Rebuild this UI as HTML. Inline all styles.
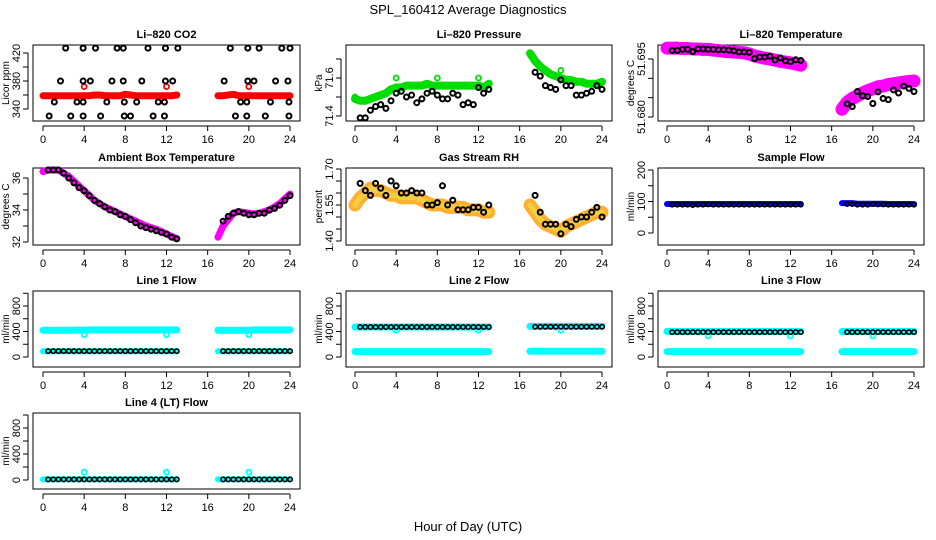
<!DOCTYPE html>
<html><head><meta charset="utf-8"><style>
html,body{margin:0;padding:0;background:#fff;}
svg{display:block;font-family:"Liberation Sans",Arial,sans-serif;}
</style></head><body>
<svg id="chart" width="936" height="540" viewBox="0 0 936 540" xmlns="http://www.w3.org/2000/svg">
<text x="468" y="14" text-anchor="middle" font-size="13">SPL_160412  Average Diagnostics</text>
<text x="468" y="531" text-anchor="middle" font-size="13">Hour of Day (UTC)</text>
</svg>
<script>
// ---- shared time arrays ----
const tDense = [0,0.5,1,1.5,2,2.5,3,3.5,4,4.5,5,5.5,6,6.5,7,7.5,8,8.5,9,9.5,10,10.5,11,11.5,12,12.5,13,17,17.5,18,18.5,19,19.5,20,20.5,21,21.5,22,22.5,23,23.5,24];
const tBlack = [0.5,1,1.5,2,2.5,3,3.5,4,4.5,5,5.5,6,6.5,7,7.5,8,8.5,9,9.5,10,10.5,11,11.5,12,12.5,13,17.5,18,18.5,19,19.5,20,20.5,21,21.5,22,22.5,23,23.5,24];
const xTicks = [0,4,8,12,16,20,24];
// ---- CO2 ----
const co2Red = [359,359,359,359,359,359,359,359,359,359,360,360,359,359,359,359,361,360,359,359,359,359,359,359,359,359,360,359,359,360,361,359,359,359,359,359,359,359,359,359,359,359];
const co2BlackT = [2.2,3.9,5.1,7.2,7.8,10.2,11.9,13.1,18.2,19.9,21.0,23.2,24, 1.7,3.9,4.6,6.7,7.8,9.6,11.9,12.6,17.6,19.9,20.5,22.6,23.8, 1.1,3.3,3.9,6.2,7.9,9.1,11.2,11.8,19.2,19.8,22.1,23.9, 0.6,2.7,3.9,5.6,7.9,8.5,10.7,11.8,18.7,19.8,21.6,23.9];
const co2BlackV = [427,427,427,427,427,427,427,427,427,427,427,427,427, 380,380,380,380,380,380,380,380,380,380,380,380,380, 350,350,350,350,350,350,350,350,350,350,350,350, 330,330,330,330,330,330,330,330,330,330,330,330];
const co2OutT = [4,12,20];
const co2OutV = [372,372,372];
// ---- Pressure ----
const presGreen = [71.49,71.48,71.48,71.49,71.5,71.51,71.52,71.54,71.55,71.55,71.56,71.56,71.56,71.56,71.57,71.56,71.56,71.56,71.56,71.56,71.56,71.56,71.56,71.56,71.56,71.55,71.57,71.73,71.69,71.66,71.64,71.62,71.61,71.6,71.59,71.59,71.58,71.58,71.57,71.57,71.57,71.58];
const presBlack = [71.39,71.39,71.43,71.45,71.46,71.44,71.48,71.52,71.53,71.5,71.51,71.47,71.49,71.52,71.53,71.51,71.49,71.49,71.52,71.51,71.46,71.47,71.46,71.55,71.52,71.54,71.63,71.61,71.56,71.55,71.54,71.59,71.56,71.56,71.51,71.51,71.52,71.53,71.56,71.54];
const presOutT = [0,4,8,12,20];
const presOutV = [71.5,71.6,71.6,71.6,71.64];
// ---- Li-820 Temperature ----
const tempMag = [51.6978,51.6978,51.6978,51.6977,51.6977,51.6976,51.6976,51.6975,51.6975,51.6973,51.6972,51.697,51.6969,51.6968,51.6967,51.6966,51.6963,51.6958,51.6955,51.6952,51.695,51.6947,51.6944,51.6942,51.694,51.6937,51.6934,51.682,51.6838,51.6848,51.6855,51.6862,51.6868,51.6873,51.6878,51.688,51.6884,51.6886,51.6888,51.689,51.6892,51.6893];
const tempBlack = [51.6972,51.6972,51.6975,51.6975,51.6969,51.6976,51.6976,51.6975,51.6975,51.6974,51.6974,51.6973,51.6971,51.6968,51.6968,51.6967,51.6951,51.6955,51.6955,51.6957,51.6947,51.6953,51.6945,51.6943,51.6948,51.6946,51.6834,51.6827,51.6866,51.6855,51.6853,51.6835,51.6865,51.6848,51.6845,51.6870,51.6862,51.6880,51.6874,51.6866];
// ---- Ambient box temperature ----
const ambMag = [36.4,36.5,36.5,36.5,36.3,36.1,35.8,35.5,35.2,34.9,34.6,34.4,34.2,34.05,33.9,33.75,33.6,33.45,33.3,33.15,33.0,32.9,32.8,32.65,32.5,32.35,32.2,32.3,33.0,33.4,33.8,33.9,33.85,33.8,33.75,33.8,33.9,34.0,34.2,34.4,34.7,35.0];
const ambBlack = [36.5,36.5,36.5,36.3,36.0,35.7,35.4,35.2,34.9,34.6,34.4,34.2,34.0,33.9,33.7,33.6,33.4,33.2,33.0,32.9,32.8,32.7,32.6,32.5,32.3,32.2,33.3,33.6,33.8,33.9,33.8,33.7,33.7,33.8,33.8,34.0,34.1,34.3,34.6,34.9];
// ---- Gas stream RH ----
const rhMid = [1.55,1.58,1.60,1.62,1.61,1.61,1.60,1.59,1.59,1.58,1.58,1.58,1.58,1.57,1.56,1.55,1.55,1.55,1.54,1.54,1.54,1.54,1.53,1.53,1.53,1.52,1.52,1.55,1.52,1.49,1.47,1.46,1.45,1.44,1.46,1.47,1.48,1.49,1.50,1.51,1.52,1.52];
const rhBlack = [1.64,1.61,1.59,1.64,1.62,1.59,1.65,1.63,1.60,1.60,1.61,1.60,1.60,1.55,1.55,1.56,1.63,1.55,1.57,1.53,1.53,1.53,1.54,1.54,1.52,1.55,1.59,1.52,1.47,1.47,1.47,1.43,1.47,1.46,1.49,1.50,1.50,1.52,1.54,1.50];
// ---- Sample flow ----
const sfBlue = [92,92,92,92,92,92,92,92,92,92,92,92,92,92,92,92,92,92,92,92,92,92,92,92,92,92,92,95,95,95,93,93,93,93,93,93,92,92,92,92,92,92];
const sfBlack = [90,90,90,90,89,90,90,91,90,90,90,90,90,90,90,90,90,90,90,90,90,90,90,90,90,90,92,92,90,90,90,92,91,91,90,90,90,90,90,90];
// ---- Line flows ----
const l1High = [420,420,420,420,420,420,420,425,420,425,425,425,425,425,425,425,425,425,425,425,425,425,425,425,425,425,425,420,420,420,420,420,420,420,425,425,425,425,425,425,425,425];
const l1Low = [90,90,90,90,90,90,90,90,90,90,90,90,90,90,90,90,90,90,90,90,90,90,90,90,90,90,90,90,90,90,90,90,90,90,90,90,90,90,90,90,90,90];
const l1Black = [92,92,92,92,92,92,92,92,92,92,92,92,92,92,92,92,92,92,92,92,92,92,92,92,92,92,92,92,92,92,92,92,92,92,92,92,92,92,92,92];
const l2High = [470,470,470,470,470,470,470,470,470,470,470,470,470,470,470,470,470,470,470,470,470,470,470,470,470,470,470,480,480,480,480,480,480,480,480,480,480,480,480,480,480,480];
const l2Low = [85,85,85,85,85,85,85,85,85,85,85,85,85,85,85,85,85,85,85,85,85,85,85,85,85,85,85,90,90,90,90,90,90,90,90,90,90,90,90,90,90,90];
const l2Black = [470,470,470,470,470,470,470,470,470,470,470,470,470,470,470,470,470,470,470,470,470,470,470,470,470,470,475,475,475,475,475,475,475,475,475,475,475,475,475,475];
const l3High = [400,400,400,400,400,400,400,400,400,400,400,400,400,400,400,400,400,400,400,400,400,400,400,400,400,400,400,400,400,400,400,400,400,400,400,400,400,400,400,400,400,400];
const l3Low = [85,85,85,85,85,85,85,85,85,85,85,85,85,85,85,85,85,85,85,85,85,85,85,85,85,85,85,85,85,85,85,85,85,85,85,85,85,85,85,85,85,85];
const l3Black = [390,390,390,390,390,390,390,390,390,390,390,390,390,390,390,390,390,390,390,390,390,390,390,390,390,390,390,390,390,390,390,390,390,390,390,390,390,390,390,390];
const l4Cyan = [10,10,10,10,10,10,10,10,10,10,10,10,10,10,10,10,10,10,10,10,10,10,10,10,10,10,10,10,10,10,10,10,10,10,10,10,10,10,10,10,10,10];
const l4Black = [10,10,10,10,10,10,10,10,10,10,10,10,10,10,10,10,10,10,10,10,10,10,10,10,10,10,10,10,10,10,10,10,10,10,10,10,10,10,10,10];
const outT = [4,12,20];
const l1Out = [350,350,350];
const l2Out = [420,420,420];
const l3Out = [330,330,330];
const l4Out = [120,120,120];

const NS = "http://www.w3.org/2000/svg";
const svg = document.getElementById('chart');
function mk(tag, attrs, parent){
  const e = document.createElementNS(NS, tag);
  for (const k in attrs) e.setAttribute(k, attrs[k]);
  (parent || svg).appendChild(e);
  return e;
}
const cols = [{l:33,r:300,x0:43,x24:290},{l:346,r:612,x0:355,x24:602},{l:658,r:924,x0:667,x24:914}];
const rows = [{t:45,b:121},{t:168,b:245},{t:291,b:367},{t:413,b:489}];

function panel(name, title, col, row, ylab, v0, p0, v1, p1, yticks, ylabels){
  const C = cols[col], R = rows[row];
  const g = mk('g', {});
  
  
  const xs = h => C.x0 + (C.x24 - C.x0) * h / 24;
  const ys = v => p0 + (p1 - p0) * (v - v0) / (v1 - v0);
  const t = mk('text', {x:(C.l+C.r)/2, y:R.t-7, 'text-anchor':'middle', 'font-size':'11', 'font-weight':'bold'}, g);
  
  
  t.textContent = title;
  const box = mk('rect', {x:C.l, y:R.t, width:C.r-C.l, height:R.b-R.t, fill:'none', stroke:'#000', 'stroke-width':'1'}, g);
  
  
  const xa = mk('g', {}, g);
  
  
  const axY = R.b + 5;
  mk('line', {x1:xs(0), x2:xs(24), y1:axY, y2:axY, stroke:'#000'}, xa);
  xTicks.forEach(h => {
    mk('line', {x1:xs(h), x2:xs(h), y1:axY, y2:axY+5, stroke:'#000'}, xa);
    const tl = mk('text', {x:xs(h), y:axY+17, 'text-anchor':'middle', 'font-size':'11'}, xa);
    
    
    tl.textContent = h;
  });
  const ya = mk('g', {}, g);
  
  
  const axX = C.l - 5;
  mk('line', {x1:axX, x2:axX, y1:ys(yticks[0]), y2:ys(yticks[yticks.length-1]), stroke:'#000'}, ya);
  yticks.forEach(v => mk('line', {x1:axX-5, x2:axX, y1:ys(v), y2:ys(v), stroke:'#000'}, ya));
  ylabels.forEach(v => {
    const yy = ys(v);
    const tl = mk('text', {x:axX-8, y:yy, 'text-anchor':'middle', 'font-size':'11', transform:`rotate(-90 ${axX-8} ${yy})`}, ya);
    
    
    tl.textContent = v;
  });
  const tx = C.l - 24, ty = (R.t+R.b)/2;
  const yt = mk('text', {x:tx, y:ty, 'text-anchor':'middle', 'font-size':'10', transform:`rotate(-90 ${tx} ${ty})`}, g);
  
  
  yt.textContent = ylab;
  return {g, xs, ys};
}
function pts(P, ts, vs, color, r, sw, nm){
  const g = mk('g', {}, P.g);
  
  
  ts.forEach((t, i) => {
    const c = mk('circle', {cx:P.xs(t), cy:P.ys(vs[i]), r:r, fill:'none', stroke:color, 'stroke-width':sw}, g);
    
    
  });
}
function band(P, ts, vs, color, nm, thick){
  const g = mk('g', {}, P.g);
  
  
  let seg = [];
  const flush = () => {
    if (seg.length) {
      const pl = mk('polyline', {points:seg.join(' '), fill:'none', stroke:color, 'stroke-width':thick, 'stroke-linejoin':'round', 'stroke-linecap':'round'}, g);
      
      
    }
    seg = [];
  };
  ts.forEach((t, i) => {
    if (i > 0 && t - ts[i-1] > 2) flush();
    seg.push(P.xs(t) + ',' + P.ys(vs[i]));
  });
  flush();
}

// CO2
let P = panel('panel-co2', 'Li\u2013820 CO2', 0, 0, 'Licor ppm', 340, 109, 420, 53, [340,360,380,400,420], [340,380,420]);
band(P, tDense, co2Red, '#ff0000', 'co2-dense', 7);
pts(P, co2OutT, co2OutV, '#ff0000', 2.5, 1.8, 'co2-outliers');
pts(P, co2BlackT, co2BlackV, '#000', 2.5, 2, 'co2-hourly');
// Pressure
P = panel('panel-pressure', 'Li\u2013820 Pressure', 1, 0, 'kPa', 71.4, 116, 71.6, 78, [71.4,71.5,71.6,71.7], [71.4,71.6]);
band(P, tDense, presGreen, '#00dd00', 'pressure-dense', 8);
pts(P, presOutT, presOutV, '#00dd00', 2.5, 1.8, 'pressure-outliers');
pts(P, tBlack, presBlack, '#000', 2.5, 2, 'pressure-hourly');
// Li-820 Temperature
P = panel('panel-li820-temp', 'Li\u2013820 Temperature', 2, 0, 'degrees C', 51.680, 117, 51.695, 59, [51.680,51.685,51.690,51.695], ['51.680','51.695']);
band(P, tDense, tempMag, '#ff00ff', 'li820-temp-dense', 13);
pts(P, tBlack, tempBlack, '#000', 2.5, 2, 'li820-temp-hourly');
// Ambient
P = panel('panel-ambient-temp', 'Ambient Box Temperature', 0, 1, 'degrees C', 32, 242, 36, 178, [32,33,34,35,36], [32,34,36]);
band(P, tDense, ambMag, '#ff00ff', 'ambient-dense', 7);
pts(P, tBlack, ambBlack, '#000', 2.5, 2, 'ambient-hourly');
// RH
P = panel('panel-rh', 'Gas Stream RH', 1, 1, 'percent', 1.40, 241, 1.70, 169, [1.40,1.45,1.50,1.55,1.60,1.65,1.70], ['1.40','1.55','1.70']);
band(P, tDense, rhMid, '#ffb030', 'rh-dense', 13);
band(P, tDense, rhMid, '#f0d040', 'rh-dense-core', 5);
pts(P, tBlack, rhBlack, '#000', 2.5, 2, 'rh-hourly');
// Sample flow
P = panel('panel-sample-flow', 'Sample Flow', 2, 1, 'ml/min', 0, 233, 200, 170, [0,50,100,150,200], [0,100,200]);
band(P, tDense, sfBlue, '#0000ff', 'sample-flow-dense', 6);
pts(P, tBlack, sfBlack, '#000', 2.2, 1.6, 'sample-flow-hourly');
// Line flows
const lineTicks = [0,200,400,600,800,1000], lineLabs = [0,400,800];
P = panel('panel-line1', 'Line 1 Flow', 0, 2, 'ml/min', 0, 357, 800, 306, lineTicks, lineLabs);
band(P, tDense, l1High, '#00ffff', 'line1-high', 7);
band(P, tDense, l1Low, '#00ffff', 'line1-low', 6);
pts(P, outT, l1Out, '#00ffff', 2.5, 1.8, 'line1-outliers');
pts(P, tBlack, l1Black, '#000', 2.2, 1.6, 'line1-hourly');
P = panel('panel-line2', 'Line 2 Flow', 1, 2, 'ml/min', 0, 357, 800, 306, lineTicks, lineLabs);
band(P, tDense, l2High, '#00ffff', 'line2-high', 7);
band(P, tDense, l2Low, '#00ffff', 'line2-low', 7);
pts(P, outT, l2Out, '#00ffff', 2.5, 1.8, 'line2-outliers');
pts(P, tBlack, l2Black, '#000', 2.2, 1.6, 'line2-hourly');
P = panel('panel-line3', 'Line 3 Flow', 2, 2, 'ml/min', 0, 357, 800, 306, lineTicks, lineLabs);
band(P, tDense, l3High, '#00ffff', 'line3-high', 7);
band(P, tDense, l3Low, '#00ffff', 'line3-low', 7);
pts(P, outT, l3Out, '#00ffff', 2.5, 1.8, 'line3-outliers');
pts(P, tBlack, l3Black, '#000', 2.2, 1.6, 'line3-hourly');
P = panel('panel-line4', 'Line 4 (LT) Flow', 0, 3, 'ml/min', 0, 480, 800, 428, lineTicks, lineLabs);
band(P, tDense, l4Cyan, '#00ffff', 'line4-dense', 6);
pts(P, outT, l4Out, '#00ffff', 2.5, 1.8, 'line4-outliers');
pts(P, tBlack, l4Black, '#000', 2.2, 1.6, 'line4-hourly');
</script>
</body></html>
